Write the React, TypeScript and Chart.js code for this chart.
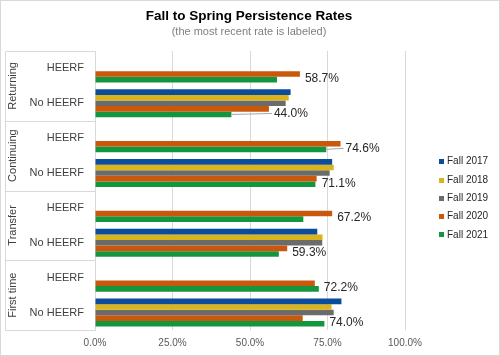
import React, { useEffect, useRef } from 'react';
import { Chart, registerables } from 'chart.js';

Chart.register(...registerables);

// ---------- data ----------
const groups = ['Returning', 'Continuing', 'Transfer', 'First time'];
const subCategories = ['HEERF', 'No HEERF'];
const categoryKeys = groups.flatMap((g) => subCategories.map((s) => `${g}|${s}`));

const seriesNames = ['Fall 2017', 'Fall 2018', 'Fall 2019', 'Fall 2020', 'Fall 2021'];
const fall2017 = [null, 63.1, null, 76.5, null, 71.7, null, 79.5];
const fall2018 = [null, 62.5, null, 77.0, null, 73.4, null, 76.3];
const fall2019 = [null, 61.5, null, 75.7, null, 73.3, null, 77.0];
const fall2020 = [66.1, 56.1, 79.2, 71.5, 76.5, 62.0, 70.9, 67.0];
const fall2021 = [58.7, 44.0, 74.6, 71.1, 67.2, 59.3, 72.2, 74.0];
const seriesValues = [fall2017, fall2018, fall2019, fall2020, fall2021];
const seriesColors = ['#0b4c9c', '#dab41a', '#6b6b6b', '#c9580d', '#14963f'];

const xTickValues = [0, 25, 50, 75, 100];
const leaderShown = [false, true, true, false, false, false, false, false];

const titleText = 'Fall to Spring Persistence Rates';
const subtitleText = '(the most recent rate is labeled)';

const FONT = '"Liberation Sans", Arial, sans-serif';
const LINE = '#d9d9d9';

const decorPlugin = {
  id: 'decor',
  beforeDraw(chart: any) {
    const { ctx, width, height } = chart;
    ctx.save();
    ctx.fillStyle = '#ffffff';
    ctx.fillRect(0, 0, width, height);
    ctx.restore();
  },
  afterDraw(chart: any) {
    const { ctx, chartArea, scales } = chart;
    const { left, top, bottom } = chartArea;
    const y = scales.y;
    const n = categoryKeys.length;
    ctx.save();

    // outer border
    ctx.strokeStyle = LINE;
    ctx.lineWidth = 1;
    ctx.strokeRect(0.5, 0.5, chart.width - 1, chart.height - 1);

    // title + subtitle
    ctx.textAlign = 'center';
    ctx.textBaseline = 'middle';
    ctx.fillStyle = '#000000';
    ctx.font = `bold 13.5px ${FONT}`;
    ctx.fillText(titleText, 249, 16.5);
    ctx.fillStyle = '#7f7f7f';
    ctx.font = `11px ${FONT}`;
    ctx.fillText(subtitleText, 249, 31.5);

    // multi-level category axis
    const edge = (i: number) =>
      i === 0 ? top : i === n ? bottom : (y.getPixelForValue(i - 1) + y.getPixelForValue(i)) / 2;
    const axisLeft = 5.5;
    ctx.strokeStyle = LINE;
    ctx.beginPath();
    for (let g = 0; g <= groups.length; g++) {
      const yy = Math.round(edge(g * subCategories.length)) + 0.5;
      ctx.moveTo(axisLeft, yy);
      ctx.lineTo(left, yy);
    }
    ctx.moveTo(axisLeft, Math.round(top) + 0.5);
    ctx.lineTo(axisLeft, Math.round(bottom) + 0.5);
    ctx.stroke();

    ctx.fillStyle = '#404040';
    ctx.font = `11px ${FONT}`;
    ctx.textAlign = 'right';
    ctx.textBaseline = 'middle';
    categoryKeys.forEach((key, i) => {
      const label = key.split('|')[1];
      ctx.fillText(label, 84, y.getPixelForValue(i));
    });
    groups.forEach((g, gi) => {
      const y0 = edge(gi * subCategories.length);
      const y1 = edge((gi + 1) * subCategories.length);
      ctx.save();
      ctx.translate(12.5, (y0 + y1) / 2);
      ctx.rotate(-Math.PI / 2);
      ctx.textAlign = 'center';
      ctx.textBaseline = 'middle';
      ctx.fillText(g, 0, 0);
      ctx.restore();
    });

    // data labels for most recent series
    const lastMeta = chart.getDatasetMeta(seriesNames.length - 1);
    const prevMeta = chart.getDatasetMeta(seriesNames.length - 2);
    ctx.font = `12px ${FONT}`;
    ctx.textAlign = 'left';
    ctx.textBaseline = 'middle';
    fall2021.forEach((v, i) => {
      const bar = lastMeta.data[i];
      const prev = prevMeta.data[i];
      if (!bar || v == null) return;
      const lx = Math.max(bar.x, prev ? prev.x : bar.x) + 5;
      const ly = bar.y - 1;
      if (leaderShown[i]) {
        ctx.strokeStyle = '#a6a6a6';
        ctx.beginPath();
        ctx.moveTo(bar.x, bar.y);
        ctx.lineTo(lx - 2, ly);
        ctx.stroke();
      }
      ctx.fillStyle = '#262626';
      ctx.fillText(`${v.toFixed(1)}%`, lx, ly);
    });

    // legend
    ctx.font = `10px ${FONT}`;
    ctx.textAlign = 'left';
    ctx.textBaseline = 'middle';
    seriesNames.forEach((name, i) => {
      const ly = 161.7 + i * 18.3;
      ctx.fillStyle = seriesColors[i];
      ctx.fillRect(439, Math.round(ly - 2.5), 5, 5);
      ctx.fillStyle = '#262626';
      ctx.fillText(name, 447, ly);
    });

    ctx.restore();
  },
};

export default function App() {
  const canvasRef = useRef<HTMLCanvasElement | null>(null);

  useEffect(() => {
    document.body.style.margin = '0';
    const canvas = canvasRef.current;
    if (!canvas) return;
    const chart = new Chart(canvas, {
      type: 'bar',
      data: {
        labels: categoryKeys,
        datasets: seriesNames.map((name, i) => ({
          label: name,
          data: seriesValues[i] as any,
          backgroundColor: seriesColors[i],
          borderWidth: 0,
          categoryPercentage: 0.8,
          barPercentage: 1.0,
        })),
      },
      options: {
        indexAxis: 'y',
        responsive: false,
        animation: false,
        devicePixelRatio: 1,
        layout: { padding: { left: 95, right: 95, top: 51, bottom: 0 } },
        plugins: {
          legend: { display: false },
          title: { display: false },
          tooltip: { enabled: false },
        },
        scales: {
          x: {
            type: 'linear',
            min: 0,
            max: 100,
            afterBuildTicks: (scale: any) => {
              scale.ticks = xTickValues.map((v) => ({ value: v }));
            },
            ticks: {
              callback: (v: any) => `${Number(v).toFixed(1)}%`,
              font: { family: FONT, size: 10 },
              color: '#595959',
              padding: 7,
              maxRotation: 0,
            },
            grid: { color: LINE, drawTicks: false },
            border: { display: false },
          },
          y: {
            type: 'category',
            ticks: { display: false },
            grid: { display: false, drawTicks: false },
            border: { display: true, color: LINE },
          },
        },
      },
      plugins: [decorPlugin],
    });
    return () => chart.destroy();
  }, []);

  return (
    <div style={{ position: 'absolute', left: 0, top: 0, width: 500, height: 356 }}>
      <canvas ref={canvasRef} width={500} height={356} style={{ display: 'block' }} />
    </div>
  );
}
